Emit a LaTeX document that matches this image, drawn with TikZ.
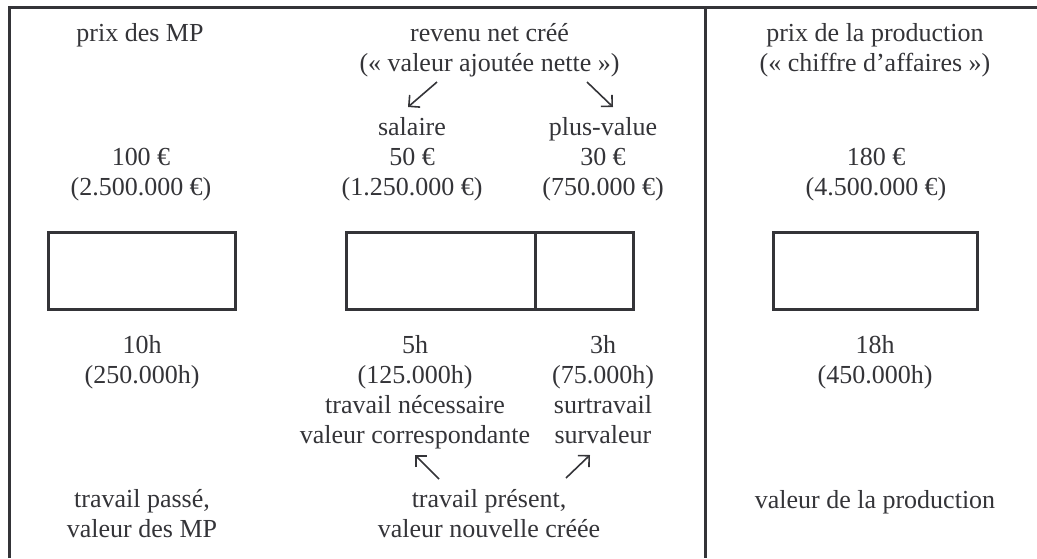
\documentclass[tikz,border=0pt]{standalone}
\usepackage{fontspec}
\setmainfont{Liberation Serif}
\usetikzlibrary{arrows.meta}
\definecolor{ink}{RGB}{52,52,56}
\begin{document}
\begin{tikzpicture}[x=1pt,y=-1pt,
  txt/.style={anchor=base, inner sep=0pt, align=center, text=ink, font=\fontsize{26}{30}\selectfont},
  frame/.style={draw=ink, line width=3pt},
  cell/.style={draw=ink, line width=3pt, inner sep=0pt, outer sep=0pt, minimum height=76.5pt},
  bar/.style={draw=ink, line width=1.6pt, -{Straight Barb[length=8pt,width=16pt,line width=1.6pt]}}]
\useasboundingbox (0,0) rectangle (1037,558);
% frame
\coordinate (fbl) at (9.5,558);
\coordinate (ftl) at (9.5,7.5);
\coordinate (ftr) at (1037,7.5);
\coordinate (dtop) at (705.5,7.5);
\coordinate (dbot) at (705.5,558);
\draw[frame] (fbl) -- (ftl) -- (ftr);
\draw[frame] (dtop) -- (dbot);
% boxes
\node[cell, minimum width=187.5pt] (box1) at (141.75,270.75) {};
\node[cell, minimum width=188.5pt] (box2a) at (440.75,270.75) {};
\node[cell, minimum width=98.5pt] (box2b) at (584.25,270.75) {};
\node[cell, minimum width=203.5pt] (box3) at (875.25,270.75) {};
% column 1 (anchor base = baseline of the last line)
\node[txt] (h1) at (140,41) {prix des MP};
\node[txt] (p1) at (141,195) {100 €\\(2.500.000 €)};
\node[txt] (t1) at (142,383) {10h\\(250.000h)};
\node[txt] (b1) at (142,537) {travail passé,\\valeur des MP};
% column 2
\node[txt] (h2) at (489.5,71) {revenu net créé\\(«~valeur ajoutée nette~»)};
\node[txt] (sal) at (412,195) {salaire\\50 €\\(1.250.000 €)};
\node[txt] (pv) at (603,195) {plus-value\\30 €\\(750.000 €)};
\node[txt] (tn) at (415,443) {5h\\(125.000h)\\travail nécessaire\\valeur correspondante};
\node[txt] (st) at (603,443) {3h\\(75.000h)\\surtravail\\survaleur};
\node[txt] (b2) at (489,537) {travail présent,\\valeur nouvelle créée};
% column 3
\node[txt] (h3) at (875,71) {prix de la production\\(«~chiffre d’affaires~»)};
\node[txt] (p3) at (876,195) {180 €\\(4.500.000 €)};
\node[txt] (t3) at (875,383) {18h\\(450.000h)};
\node[txt] (b3) at (875,508) {valeur de la production};
% arrows
\coordinate (a1s) at (437,82); \coordinate (a1e) at (408,107);
\coordinate (a2s) at (587,82); \coordinate (a2e) at (613,107);
\coordinate (a3s) at (439,479); \coordinate (a3e) at (415,455);
\coordinate (a4s) at (566,478); \coordinate (a4e) at (590,455);
\draw[bar] (a1s) -- (a1e);
\draw[bar] (a2s) -- (a2e);
\draw[bar] (a3s) -- (a3e);
\draw[bar] (a4s) -- (a4e);
\end{tikzpicture}
\end{document}
